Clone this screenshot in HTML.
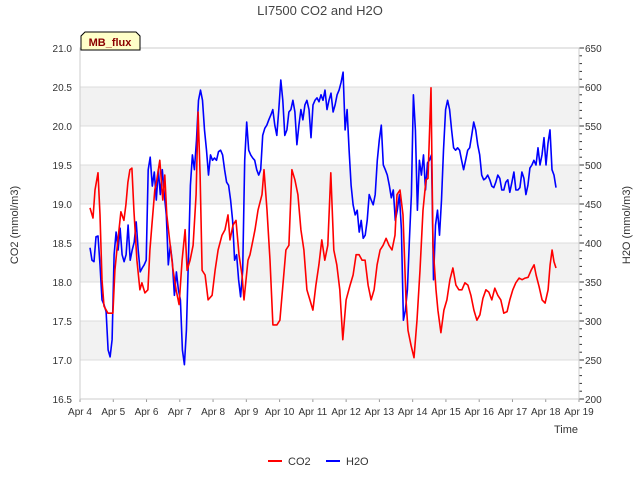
<!DOCTYPE html>
<html><head><meta charset="utf-8"><style>
body{margin:0;background:#fff;font-family:"Liberation Sans",sans-serif}
svg text{font-family:"Liberation Sans",sans-serif}
</style></head><body>
<svg id="chart" width="640" height="480" viewBox="0 0 640 480"></svg>
<script>
const dayLabels=["Apr 4","Apr 5","Apr 6","Apr 7","Apr 8","Apr 9","Apr 10","Apr 11","Apr 12","Apr 13","Apr 14","Apr 15","Apr 16","Apr 17","Apr 18","Apr 19"];
const leftTicks=[16.5,17.0,17.5,18.0,18.5,19.0,19.5,20.0,20.5,21.0];
const rightTicks=[200,250,300,350,400,450,500,550,600,650];
const startDay=0.30, endDay=14.31;
const co2Days=[0.30,0.39,0.45,0.54,0.60,0.66,0.72,0.84,0.99,1.05,1.14,1.23,1.32,1.38,1.44,1.50,1.56,1.62,1.71,1.80,1.86,1.95,2.04,2.10,2.16,2.25,2.31,2.40,2.49,2.55,2.61,2.71,2.80,2.89,2.98,3.07,3.16,3.22,3.31,3.40,3.49,3.55,3.61,3.67,3.76,3.85,3.97,4.06,4.15,4.27,4.36,4.45,4.51,4.60,4.69,4.78,4.87,4.93,5.05,5.11,5.20,5.26,5.35,5.47,5.53,5.62,5.71,5.80,5.92,6.01,6.10,6.19,6.28,6.37,6.46,6.55,6.64,6.73,6.82,6.91,7.00,7.09,7.18,7.27,7.36,7.45,7.54,7.63,7.72,7.81,7.90,8.00,8.12,8.21,8.30,8.39,8.48,8.57,8.66,8.75,8.84,8.93,9.02,9.11,9.20,9.29,9.38,9.47,9.53,9.62,9.71,9.80,9.86,9.95,10.04,10.13,10.22,10.31,10.40,10.46,10.55,10.61,10.70,10.76,10.85,10.94,11.03,11.12,11.21,11.30,11.39,11.48,11.57,11.66,11.75,11.84,11.93,12.02,12.11,12.20,12.29,12.38,12.47,12.56,12.65,12.74,12.84,12.92,13.01,13.10,13.20,13.29,13.38,13.47,13.56,13.65,13.71,13.80,13.89,13.98,14.07,14.13,14.19,14.25,14.31];
const co2=[18.95,18.82,19.18,19.40,18.86,18.03,17.69,17.60,17.60,18.15,18.54,18.90,18.79,18.99,19.28,19.44,19.46,18.92,18.28,17.90,17.99,17.86,17.90,18.41,18.73,19.18,19.31,19.56,19.05,19.37,18.86,18.47,18.15,17.90,17.71,18.28,18.67,18.15,18.28,18.47,19.12,20.18,19.37,18.15,18.09,17.77,17.83,18.15,18.41,18.60,18.67,18.86,18.54,18.73,18.79,18.35,18.09,17.77,18.28,18.35,18.54,18.67,18.92,19.12,19.44,18.92,18.28,17.45,17.45,17.51,17.96,18.41,18.47,19.44,19.31,19.12,18.67,18.41,17.90,17.77,17.64,17.96,18.22,18.54,18.28,18.47,19.40,18.41,18.22,17.90,17.26,17.77,17.96,18.09,18.35,18.35,18.28,18.28,17.96,17.77,17.90,18.22,18.41,18.47,18.56,18.47,18.41,18.60,19.12,19.18,18.86,17.77,17.38,17.19,17.03,17.51,18.15,18.92,19.31,19.33,20.49,18.47,17.90,17.64,17.35,17.64,17.77,18.03,18.18,17.96,17.90,17.90,17.99,17.96,17.83,17.64,17.51,17.58,17.79,17.90,17.87,17.77,17.92,17.83,17.77,17.60,17.62,17.77,17.90,17.99,18.05,18.03,18.05,18.06,18.15,18.22,18.09,17.94,17.77,17.73,17.90,18.22,18.41,18.26,18.18];
const h2o=[394,378,376,408,409,372,327,321,312,263,254,276,385,414,391,419,385,376,385,423,378,391,401,427,391,363,368,372,378,494,510,473,491,455,494,462,494,462,436,372,397,376,333,363,340,327,263,244,288,378,474,513,494,532,583,596,583,545,519,487,513,506,509,506,517,519,513,494,478,474,455,429,378,385,353,331,365,506,555,519,513,509,506,494,487,494,538,547,551,558,564,571,551,538,571,609,583,538,545,568,571,583,568,526,551,571,558,577,583,571,535,577,583,586,581,590,583,596,571,583,592,568,577,590,596,606,619,545,571,519,474,449,436,442,414,429,406,410,429,462,455,449,462,506,532,551,500,494,487,474,458,468,429,442,462,417,301,314,340,404,462,590,545,442,506,487,513,468,503,506,513,353,423,442,410,455,519,571,583,571,545,522,519,522,519,506,494,506,519,522,538,555,545,526,513,487,481,483,487,481,473,471,478,487,483,468,468,478,481,465,478,491,468,468,471,491,483,462,474,496,500,506,500,522,500,513,535,500,528,545,494,487,471];

const X0=80,X1=579,Y0=399,Y1=48;
const xs=d=>X0+(X1-X0)*d/15;
const yl=v=>Y0-(v-16.5)/(21-16.5)*(Y0-Y1);
const yr=v=>Y0-(v-200)/(650-200)*(Y0-Y1);
const svg=document.getElementById('chart');
const NS='http://www.w3.org/2000/svg';
function mk(tag,attrs,name,parent){const e=document.createElementNS(NS,tag);for(const k in attrs)e.setAttribute(k,attrs[k]);


(parent||svg).appendChild(e);return e;}
for(let i=0;i<leftTicks.length-1;i++){
  if(i%2===1){mk('rect',{x:X0,y:yl(leftTicks[i+1]),width:X1-X0,height:yl(leftTicks[i])-yl(leftTicks[i+1]),fill:'#f2f2f2'},'grid-band');}
}
leftTicks.forEach(v=>{mk('line',{x1:X0,x2:X1,y1:yl(v),y2:yl(v),stroke:'#dcdcdc','stroke-width':1},'grid-line');
 const t=mk('text',{x:X0-8,y:yl(v)+4,'text-anchor':'end','font-size':10,fill:'#333'},'left-tick-label');t.textContent=v.toFixed(1);});
rightTicks.forEach(v=>{const t=mk('text',{x:X1+6,y:yr(v)+4,'font-size':10,fill:'#333'},'right-tick-label');t.textContent=v;});
for(let v=200;v<=650;v+=10){mk('line',{x1:X1,x2:X1+(v%50===0?5:3),y1:yr(v),y2:yr(v),stroke:'#333'},'right-tick');}
dayLabels.forEach((l,i)=>{const t=mk('text',{x:xs(i),y:415,'text-anchor':'middle','font-size':10,fill:'#333'},'x-tick-label');t.textContent=l;
 mk('line',{x1:xs(i),x2:xs(i),y1:Y0,y2:Y0+3,stroke:'#999'},'x-tick');});
mk('rect',{x:X0,y:Y1,width:X1-X0,height:Y0-Y1,fill:'none',stroke:'#ccc'},'plot-frame');
function pathFrom(days,vals,yf){let d='';const n=Math.min(days.length,vals.length);
 for(let i=0;i<n;i++){d+=(i?'L':'M')+xs(days[i]).toFixed(1)+','+yf(vals[i]).toFixed(1);}return d;}
const h2oDays=h2o.map((v,i)=>startDay+(endDay-startDay)*i/(h2o.length-1));
mk('path',{d:pathFrom(h2oDays,h2o,yr),fill:'none',stroke:'#0000ff','stroke-width':1.6,'stroke-linejoin':'round'},'h2o-line');
mk('path',{d:pathFrom(co2Days,co2,yl),fill:'none',stroke:'#ff0000','stroke-width':1.6,'stroke-linejoin':'round'},'co2-line');
</script>
<svg width="640" height="480" style="position:absolute;left:0;top:0">
<text x="320" y="15" text-anchor="middle" font-size="13" fill="#444">LI7500 CO2 and H2O</text>
<text x="18" y="225" text-anchor="middle" font-size="11" fill="#333" transform="rotate(-90 18 225)">CO2 (mmol/m3)</text>
<text x="630" y="225" text-anchor="middle" font-size="11" fill="#333" transform="rotate(-90 630 225)">H2O (mmol/m3)</text>
<text x="566" y="433" text-anchor="middle" font-size="11" fill="#333">Time</text>
<path d="M81,50 L81,36 L85,32 L136,32 L140,36 L140,50 Z" fill="#ffffc8" stroke="#000"/>
<text x="110" y="46" text-anchor="middle" font-size="11" font-weight="bold" fill="#8b0000">MB_flux</text>
<line x1="268" x2="282" y1="461" y2="461" stroke="#ff0000" stroke-width="2"/>
<text x="288" y="465" font-size="11" fill="#333">CO2</text>
<line x1="326" x2="340" y1="461" y2="461" stroke="#0000ff" stroke-width="2"/>
<text x="346" y="465" font-size="11" fill="#333">H2O</text>
</svg>
</body></html>
